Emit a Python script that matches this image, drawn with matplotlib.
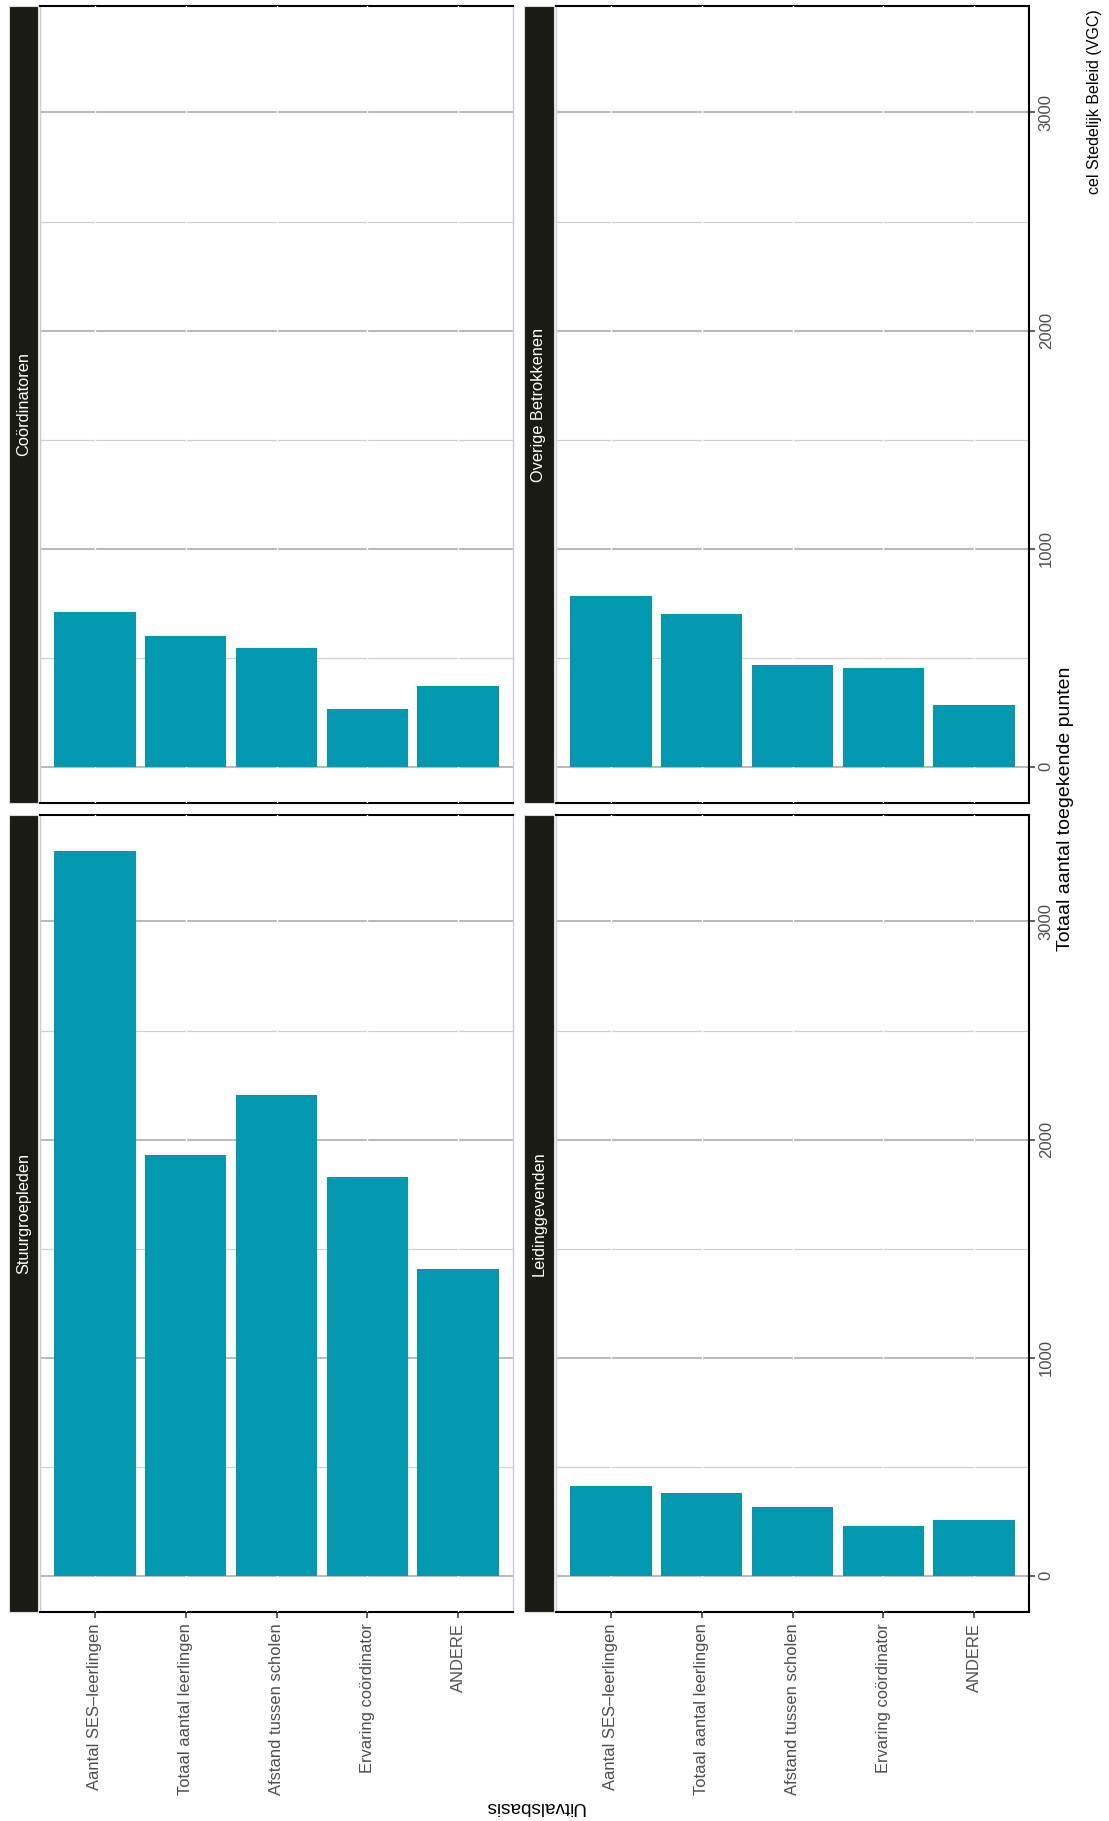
import matplotlib
matplotlib.use("Agg")
import matplotlib.pyplot as plt
from matplotlib.ticker import FixedLocator

plt.rcParams['font.family'] = ['Liberation Sans', 'DejaVu Sans']

# Categories (Uitvalsbasis) and total points per group
categories = ["Aantal SES\u2013leerlingen", "Totaal aantal leerlingen",
              "Afstand tussen scholen", "Ervaring co\u00f6rdinator", "ANDERE"]
stuurgroepleden = [3322, 1931, 2206, 1830, 1405]
coordinatoren = [710, 600, 545, 267, 370]
leidinggevenden = [410, 381, 316, 230, 257]
overige_betrokkenen = [784, 700, 466, 454, 285]

value_ticks = [0, 1000, 2000, 3000]
value_minor = [500, 1500, 2500]

W, H = 1109, 1821
BAR = "#0299b0"
STRIP = "#1b1b16"
TXT = "#4d4d4d"

fig = plt.figure(figsize=(W / 100, H / 100), dpi=100)


def box(x0, y0, x1, y1):
    return [x0 / W, 1 - y1 / H, (x1 - x0) / W, (y1 - y0) / H]


vmax = max(stuurgroepleden + coordinatoren + leidinggevenden + overige_betrokkenen)
ylo, yhi = -0.05 * vmax, 1.05 * vmax

panels = [
    ("Co\u00f6rdinatoren", coordinatoren, (40, 6, 513, 803), (9, 38), False, False),
    ("Overige Betrokkenen", overige_betrokkenen, (556, 6, 1029, 803), (524, 554), True, False),
    ("Stuurgroepleden", stuurgroepleden, (40, 815, 513, 1612), (9, 38), False, True),
    ("Leidinggevenden", leidinggevenden, (556, 815, 1029, 1612), (524, 554), True, True),
]

for name, vals, (x0, y0, x1, y1), (sx0, sx1), right_col, bottom_row in panels:
    ax = fig.add_axes(box(x0, y0, x1, y1))
    xs = list(range(len(categories)))
    ax.bar(xs, vals, width=0.9, color=BAR, zorder=4)
    ax.set_xlim(-0.6, len(categories) - 0.4)
    ax.set_ylim(ylo, yhi)

    ax.yaxis.set_major_locator(FixedLocator(value_ticks))
    ax.yaxis.set_minor_locator(FixedLocator(value_minor))
    ax.grid(which='major', axis='y', color='#b3b3b3', lw=1.3, zorder=1)
    ax.grid(which='minor', axis='y', color='#d0d0d0', lw=0.9, zorder=1)
    for xv in xs:
        ax.axvline(xv, color='white', lw=1.0, zorder=3)

    for side in ('top', 'bottom'):
        ax.spines[side].set_color('black')
        ax.spines[side].set_linewidth(1.5)
    ax.spines['left'].set_color('#cccccc')
    ax.spines['left'].set_linewidth(1.0)
    if right_col:
        ax.spines['right'].set_color('black')
        ax.spines['right'].set_linewidth(1.5)
    else:
        ax.spines['right'].set_color('#cccccc')
        ax.spines['right'].set_linewidth(1.0)

    # value axis on the right side
    ax.yaxis.tick_right()
    ax.tick_params(axis='y', which='minor', length=0)
    if right_col:
        ax.tick_params(axis='y', which='major', length=4, width=1.1, color='#333333',
                       pad=3, labelsize=12, labelcolor=TXT, labelrotation=90)
        ax.set_yticklabels([str(v) for v in value_ticks])
        for lab in ax.get_yticklabels():
            lab.set_va('center')
            lab.set_ha('left')
    else:
        ax.tick_params(axis='y', which='major', length=0, labelright=False, labelleft=False)

    # category axis at the bottom
    ax.set_xticks(xs)
    if bottom_row:
        ax.set_xticklabels(categories, rotation=90, va='top', ha='center')
        ax.tick_params(axis='x', length=4, width=1.1, color='#333333', pad=4,
                       labelsize=11.9, labelcolor=TXT)
    else:
        ax.tick_params(axis='x', length=0, labelbottom=False)

    # facet strip
    sax = fig.add_axes(box(sx0, y0, sx1, y1))
    sax.set_facecolor(STRIP)
    sax.set_xticks([])
    sax.set_yticks([])
    for sp in sax.spines.values():
        sp.set_color('#d9d9d9')
        sp.set_linewidth(0.8)
    sax.text(0.5, 0.5, name, rotation=90, ha='center', va='center',
             color='white', fontsize=11.8, transform=sax.transAxes)

fig.text(1066 / W, 1 - 809 / H, "Totaal aantal toegekende punten", rotation=90,
         ha='center', va='center', fontsize=14, color='black')
fig.text(1094 / W, 1 - 9 / H, "cel Stedelijk Beleid (VGC)", rotation=90,
         ha='center', va='top', fontsize=11.5, color='black')
fig.text(534 / W, 1 - 1806 / H, "Uitvalsbasis", rotation=180,
         ha='center', va='center', fontsize=13.7, color='black')

fig.savefig("out.png", dpi=100, facecolor='white')
